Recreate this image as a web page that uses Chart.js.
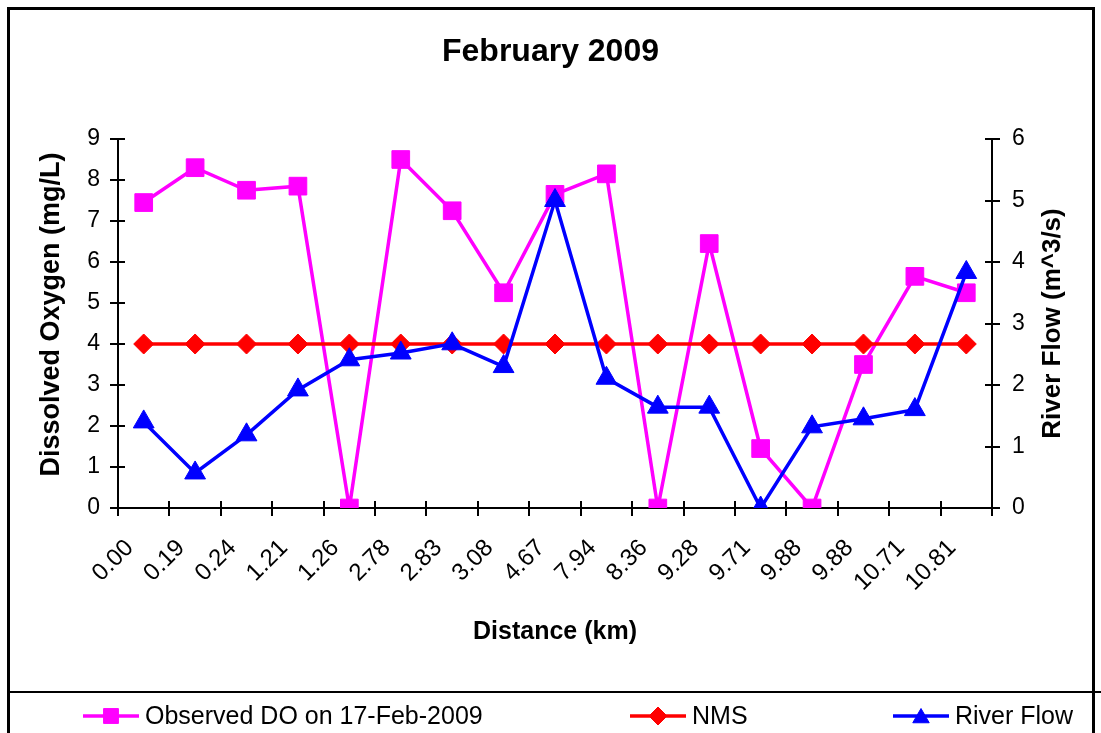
<!DOCTYPE html>
<html>
<head>
<meta charset="utf-8">
<title>February 2009</title>
<script src="https://cdn.jsdelivr.net/npm/chart.js@4/dist/chart.umd.min.js"></script>
<style>
  html, body { margin: 0; padding: 0; background: #ffffff; }
  #wrap { width: 1101px; height: 733px; }
  canvas { display: block; }
</style>
</head>
<body>
<div id="wrap"><canvas id="chart" width="1101" height="733"></canvas></div>
<script>
// Sampling stations along the river (km)
const distanceLabels = ['0.00', '0.19', '0.24', '1.21', '1.26', '2.78', '2.83', '3.08', '4.67',
                        '7.94', '8.36', '9.28', '9.71', '9.88', '9.88', '10.71', '10.81'];

// Dissolved oxygen measured on 17-Feb-2009 (mg/L)
const observedDO = [7.45, 8.3, 7.75, 7.85, 0, 8.5, 7.25, 5.25, 7.65, 8.15, 0, 6.45, 1.45, 0, 3.5, 5.65, 5.25];

// National minimum standard for DO (mg/L)
const nmsDO = [4, 4, 4, 4, 4, 4, 4, 4, 4, 4, 4, 4, 4, 4, 4, 4, 4];

// River flow (m^3/s)
const riverFlow = [1.4, 0.57, 1.19, 1.92, 2.41, 2.52, 2.67, 2.3, 5.0, 2.11, 1.64, 1.64, 0, 1.32, 1.45, 1.6, 3.83];

// Axis tick values
const doTicks = [0, 1, 2, 3, 4, 5, 6, 7, 8, 9];
const flowTicks = [0, 1, 2, 3, 4, 5, 6];

const doAxisTitle = 'Dissolved Oxygen (mg/L)';
const flowAxisTitle = 'River Flow (m^3/s)';

const FONT = "'Liberation Sans', Arial, Helvetica, sans-serif";
const BLACK = '#000000';

// Outer frame of the chart and the separate key panel underneath
const framePlugin = {
  id: 'frame',
  afterDraw(chart) {
    const ctx = chart.ctx;
    ctx.save();
    ctx.strokeStyle = BLACK;
    ctx.lineWidth = 3;
    ctx.beginPath();
    ctx.moveTo(8.5, 733);
    ctx.lineTo(8.5, 8.5);
    ctx.lineTo(1093.5, 8.5);
    ctx.lineTo(1093.5, 733);
    ctx.stroke();
    ctx.lineWidth = 2;
    ctx.beginPath();
    ctx.moveTo(8, 692);
    ctx.lineTo(1101, 692);
    ctx.stroke();
    ctx.restore();
  }
};

// Both value-axis titles, reading bottom to top
const axisTitlesPlugin = {
  id: 'axisTitles',
  afterDraw(chart) {
    const ctx = chart.ctx;
    const s = chart.scales.y;
    const mid = (s.top + s.bottom) / 2;
    const put = (text, x, y, size) => {
      ctx.save();
      ctx.translate(x, y);
      ctx.rotate(-Math.PI / 2);
      ctx.fillStyle = BLACK;
      ctx.font = 'bold ' + size + 'px ' + FONT;
      ctx.textAlign = 'center';
      ctx.textBaseline = 'middle';
      ctx.fillText(text, 0, 0);
      ctx.restore();
    };
    put(doAxisTitle, 52, mid - 9, 27);
    put(flowAxisTitle, 1053, mid, 26);
  }
};

// Inner half of the cross-style tick marks on all three axes
const crossTicksPlugin = {
  id: 'crossTicks',
  beforeDatasetsDraw(chart) {
    const ctx = chart.ctx;
    const area = chart.chartArea;
    const len = 7;
    ctx.save();
    ctx.strokeStyle = BLACK;
    ctx.lineWidth = 2;
    ctx.beginPath();
    const y = chart.scales.y;
    doTicks.forEach(v => {
      const py = Math.round(y.getPixelForValue(v));
      ctx.moveTo(area.left, py);
      ctx.lineTo(area.left + len, py);
    });
    const y1 = chart.scales.y1;
    flowTicks.forEach(v => {
      const py = Math.round(y1.getPixelForValue(v));
      ctx.moveTo(area.right, py);
      ctx.lineTo(area.right - len, py);
    });
    const x = chart.scales.x;
    const n = distanceLabels.length;
    const step = x.getPixelForTick(1) - x.getPixelForTick(0);
    for (let i = 0; i <= n; i++) {
      const px = Math.round(x.getPixelForTick(0) - step / 2 + i * step);
      ctx.moveTo(px, area.bottom);
      ctx.lineTo(px, area.bottom - len);
    }
    ctx.stroke();
    ctx.restore();
  }
};

// Key along the bottom panel: line sample with marker, then label
const keyPlugin = {
  id: 'bottomKey',
  afterDraw(chart) {
    const ctx = chart.ctx;
    const slots = [83, 630, 893];
    const keyY = 716;
    const lineLen = 56;
    const draw = Chart.helpers && Chart.helpers.drawPoint;
    ctx.save();
    chart.data.datasets.forEach((ds, i) => {
      const x0 = slots[i];
      ctx.strokeStyle = ds.borderColor;
      ctx.lineWidth = 3.5;
      ctx.beginPath();
      ctx.moveTo(x0, keyY);
      ctx.lineTo(x0 + lineLen, keyY);
      ctx.stroke();
      if (draw) {
        ctx.fillStyle = ds.pointBackgroundColor;
        ctx.strokeStyle = ds.pointBorderColor;
        ctx.lineWidth = 1;
        draw(ctx, { pointStyle: ds.pointStyle, radius: ds.keyRadius, borderWidth: 1, rotation: 0 },
             x0 + lineLen / 2, keyY + (ds.pointStyle === 'triangle' ? 2 : 0));
      }
      ctx.fillStyle = BLACK;
      ctx.font = '25px ' + FONT;
      ctx.textBaseline = 'middle';
      ctx.textAlign = 'left';
      ctx.fillText(ds.label, x0 + lineLen + 6, keyY + 1);
    });
    ctx.restore();
  }
};

const ctx = document.getElementById('chart').getContext('2d');
new Chart(ctx, {
  type: 'line',
  data: {
    labels: distanceLabels,
    datasets: [
      {
        label: 'Observed DO on 17-Feb-2009',
        data: observedDO,
        yAxisID: 'y',
        borderColor: '#FF00FF',
        backgroundColor: '#FF00FF',
        pointBackgroundColor: '#FF00FF',
        pointBorderColor: '#FF00FF',
        borderWidth: 3.5,
        pointStyle: 'rect',
        pointRadius: 12.5,
        pointBorderWidth: 1,
        keyRadius: 10.5,
        tension: 0,
        order: 3
      },
      {
        label: 'NMS',
        data: nmsDO,
        yAxisID: 'y',
        borderColor: '#FF0000',
        backgroundColor: '#FF0000',
        pointBackgroundColor: '#FF0000',
        pointBorderColor: '#FF0000',
        borderWidth: 3.5,
        pointStyle: 'rectRot',
        pointRadius: 10,
        pointBorderWidth: 1,
        keyRadius: 9,
        tension: 0,
        order: 2
      },
      {
        label: 'River Flow',
        data: riverFlow,
        yAxisID: 'y1',
        borderColor: '#0000FF',
        backgroundColor: '#0000FF',
        pointBackgroundColor: '#0000FF',
        pointBorderColor: '#0000FF',
        borderWidth: 3.5,
        pointStyle: 'triangle',
        pointRadius: 12,
        pointBorderWidth: 1,
        keyRadius: 9.5,
        tension: 0,
        order: 1
      }
    ]
  },
  options: {
    responsive: false,
    animation: false,
    devicePixelRatio: 1,
    layout: { padding: 0 },
    plugins: {
      legend: { display: false },
      tooltip: { enabled: false },
      title: {
        display: true,
        text: 'February 2009',
        color: BLACK,
        font: { family: FONT, size: 32, weight: 'bold', lineHeight: 1.2 },
        padding: { top: 33, bottom: 67.6 }
      }
    },
    scales: {
      x: {
        type: 'category',
        offset: true,
        grid: { offset: true, drawOnChartArea: false, color: BLACK, lineWidth: 2, tickLength: 8 },
        border: { color: BLACK, width: 2 },
        ticks: {
          autoSkip: false,
          minRotation: 45,
          maxRotation: 45,
          color: BLACK,
          padding: 18,
          labelOffset: -14,
          font: { family: FONT, size: 24 }
        },
        title: {
          display: true,
          text: 'Distance (km)',
          color: BLACK,
          font: { family: FONT, size: 25, weight: 'bold', lineHeight: 1.2 },
          padding: { top: 0, bottom: 86 }
        },
        afterFit(scale) { scale.height = 225; }
      },
      y: {
        position: 'left',
        min: 0,
        max: 9,
        afterBuildTicks(scale) { scale.ticks = doTicks.map(v => ({ value: v })); },
        grid: { drawOnChartArea: false, color: BLACK, lineWidth: 2, tickLength: 8 },
        border: { color: BLACK, width: 2 },
        ticks: { color: BLACK, padding: 10, font: { family: FONT, size: 23 } },
        title: { display: false },
        afterFit(scale) { scale.width = 118; }
      },
      y1: {
        position: 'right',
        min: 0,
        max: 6,
        afterBuildTicks(scale) { scale.ticks = flowTicks.map(v => ({ value: v })); },
        grid: { drawOnChartArea: false, color: BLACK, lineWidth: 2, tickLength: 8 },
        border: { color: BLACK, width: 2 },
        ticks: { color: BLACK, padding: 12, font: { family: FONT, size: 23 } },
        title: { display: false },
        afterFit(scale) { scale.width = 109; }
      }
    }
  },
  plugins: [crossTicksPlugin, keyPlugin, axisTitlesPlugin, framePlugin]
});
</script>
</body>
</html>
